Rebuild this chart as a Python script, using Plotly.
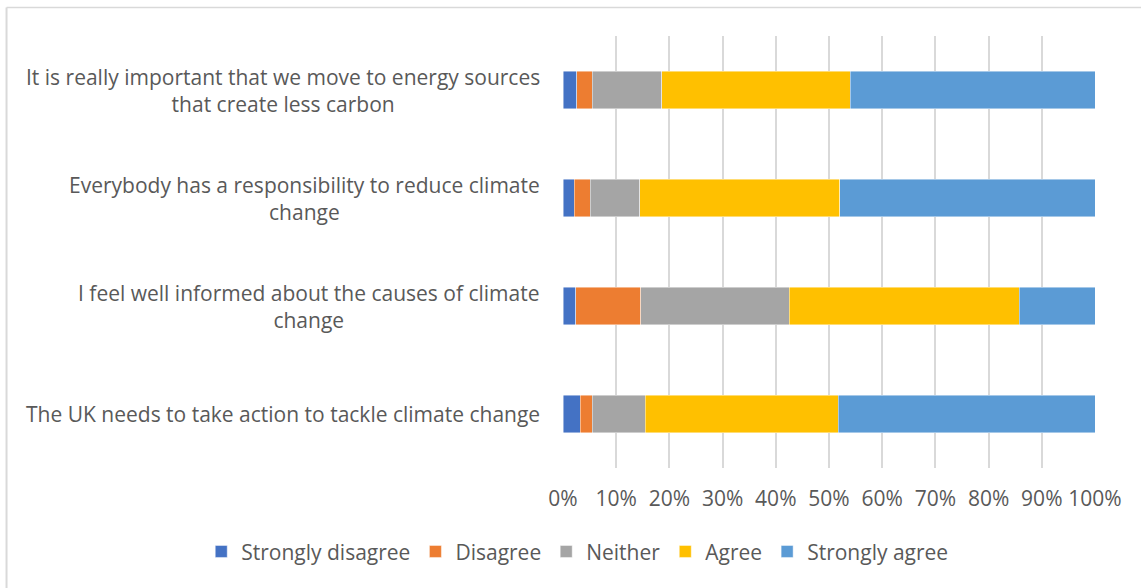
import plotly.graph_objects as go

# Survey statements, listed top to bottom
statements = [
    "It is really important that we move to energy sources<br>that create less carbon",
    "Everybody has a responsibility to reduce climate<br>change",
    "I feel well informed about the causes of climate<br>change",
    "The UK needs to take action to tackle climate change",
]

responses = ["Strongly disagree", "Disagree", "Neither", "Agree", "Strongly agree"]

# Share of responses (%) per statement, same order as statements
strongly_disagree = [2.6, 2.1, 2.4, 3.2]
disagree = [2.9, 3.0, 12.2, 2.3]
neither = [13.1, 9.3, 27.9, 10.0]
agree = [35.4, 37.6, 43.3, 36.2]
strongly_agree = [46.0, 48.0, 14.2, 48.3]

series_values = [strongly_disagree, disagree, neither, agree, strongly_agree]
colors = ["#4472C4", "#ED7D31", "#A5A5A5", "#FFC000", "#5B9BD5"]

tick_vals = [0, 10, 20, 30, 40, 50, 60, 70, 80, 90, 100]
tick_text = [f"{v}%" for v in tick_vals]

FONT = "'Open Sans', Lato, sans-serif"
TEXT = "#595959"
SIZE = 21

fig = go.Figure()
for name, vals, col in zip(responses, series_values, colors):
    fig.add_trace(go.Bar(
        y=statements, x=vals, name=name, orientation="h",
        marker=dict(color=col, line=dict(color="rgba(255,255,255,0.6)", width=0.75)),
    ))

# Category labels: right-aligned block, centred lines
for s in statements:
    fig.add_annotation(
        x=-0.039, xref="paper", xanchor="right",
        y=s, yref="y", yanchor="middle",
        text=s, showarrow=False, align="center",
        font=dict(family=FONT, size=SIZE, color=TEXT),
    )

# Chart-area frame (top and left edges)
fig.add_shape(type="line", xref="paper", yref="paper",
              x0=-1.046, x1=1.2, y0=1.066, y1=1.066,
              line=dict(color="#d9d9d9", width=1.5))
fig.add_shape(type="line", xref="paper", yref="paper",
              x0=-1.046, x1=-1.046, y0=1.066, y1=-0.4,
              line=dict(color="#d9d9d9", width=2))

fig.update_layout(
    width=1141, height=588,
    margin=dict(l=563, r=46, t=36, b=120, autoexpand=False),
    barmode="stack", bargap=0.65,
    plot_bgcolor="white", paper_bgcolor="white",
    font=dict(family=FONT, size=SIZE, color=TEXT),
    xaxis=dict(
        range=[0, 100], tickvals=tick_vals, ticktext=tick_text,
        showgrid=True, gridcolor="#d9d9d9", gridwidth=1.5,
        zeroline=False, showline=False,
        ticks="outside", ticklen=12, tickcolor="rgba(0,0,0,0)",
        tickfont=dict(family=FONT, size=SIZE, color=TEXT),
    ),
    yaxis=dict(
        autorange="reversed", showticklabels=False,
        showgrid=False, zeroline=False, showline=False,
    ),
    legend=dict(
        orientation="h", xref="paper", yref="paper",
        x=-0.68, xanchor="left", y=-0.194, yanchor="middle",
        font=dict(family=FONT, size=SIZE, color=TEXT),
        traceorder="normal",
    ),
    showlegend=True,
)

fig.write_html("out.html")
